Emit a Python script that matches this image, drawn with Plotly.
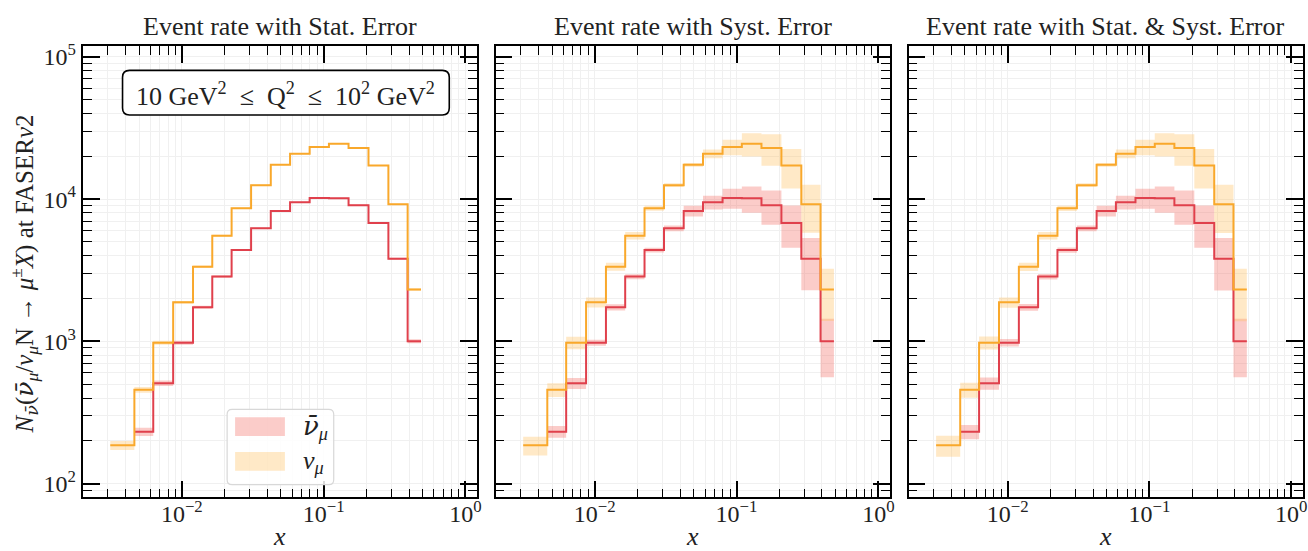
import plotly.graph_objects as go
import math

# ---------------- data ----------------
x_edges = [0.00313, 0.00463, 0.00629, 0.00869, 0.0120, 0.0164, 0.02245, 0.0308,
           0.0424, 0.0580, 0.0797, 0.1090, 0.1499, 0.2072, 0.2862, 0.3912, 0.4860]

nu_mu = [186, 457, 980, 1883, 3355, 5540, 8630, 12550, 17420, 20860, 23230,
         24490, 22860, 17220, 9200, 2317]
nubar_mu = [None, 232, 508, 980, 1738, 2855, 4385, 6240, 8270, 9510, 10190,
            10150, 9060, 6790, 3810, 1002]

nu_stat = [0.073, 0.047, 0.032, 0.023, 0.017, 0.013, 0.011, 0.009, 0.008, 0.007,
           0.0066, 0.0064, 0.0066, 0.0076, 0.0104, 0.021]
nubar_stat = [None, 0.066, 0.044, 0.032, 0.024, 0.019, 0.015, 0.0127, 0.011, 0.0103,
              0.0099, 0.0099, 0.0105, 0.0122, 0.0162, 0.032]
# relative systematic uncertainties
nu_syst = [0.15, 0.11, 0.10, 0.08, 0.065, 0.06, 0.04, 0.03, 0.03, 0.07, 0.125,
           0.185, 0.25, 0.31, 0.37, 0.40]
nubar_syst = [None, 0.095, 0.09, 0.05, 0.05, 0.04, 0.04, 0.045, 0.085, 0.11, 0.16,
              0.21, 0.27, 0.33, 0.40, 0.44]

panel_titles = ["Event rate with Stat. Error", "Event rate with Syst. Error",
                "Event rate with Stat. &amp; Syst. Error"]
x_tickvals = [0.01, 0.1, 1]
x_ticktext = ["10<sup>−2</sup>", "10<sup>−1</sup>", "10<sup>0</sup>"]
y_tickvals = [1e2, 1e3, 1e4, 1e5]
y_ticktext = ["10<sup>2</sup>", "10<sup>3</sup>", "10<sup>4</sup>", "10<sup>5</sup>"]

# ---------------- style ----------------
W, H = 1308, 551
FONT = "Liberation Serif"
NUBAR = "<span style=\"font-family:'DejaVu Serif'\"><i>ν̄</i></span>"
RED_LINE = "#e0404c"
ORA_LINE = "#f9a82b"
RED_BAND = "rgba(243,110,100,0.35)"
ORA_BAND = "rgba(255,188,85,0.33)"
GRID = "#f0f0f0"

px_l = [83, 497.5, 912]
panel_w = 395.5
top_px, bot_px = 41, 497


def fx(p):
    return p / W


def fy(p):
    return 1 - p / H


fig = go.Figure()


def errs(kind, stat, syst):
    out = []
    for s, t in zip(stat, syst):
        if s is None:
            out.append(None)
        elif kind == 0:
            out.append(s)
        elif kind == 1:
            out.append(t)
        else:
            out.append(math.sqrt(s * s + t * t))
    return out


def add_band(k, vals, rel, band_col):
    xa = "x" if k == 0 else f"x{k+1}"
    ya = "y" if k == 0 else f"y{k+1}"
    start = 0
    while vals[start] is None:
        start += 1
    v = vals[start:]
    e = rel[start:]
    xe = x_edges[start:]
    lo = [a * (1 - b) for a, b in zip(v, e)]
    hi = [a * (1 + b) for a, b in zip(v, e)]
    fig.add_trace(go.Scatter(x=xe, y=lo + [lo[-1]], mode="lines", line=dict(width=0, shape="hv"),
                             xaxis=xa, yaxis=ya, showlegend=False, hoverinfo="skip"))
    fig.add_trace(go.Scatter(x=xe, y=hi + [hi[-1]], mode="lines", line=dict(width=0, shape="hv"),
                             fill="tonexty", fillcolor=band_col,
                             xaxis=xa, yaxis=ya, showlegend=False, hoverinfo="skip"))


def add_line(k, vals, line_col):
    xa = "x" if k == 0 else f"x{k+1}"
    ya = "y" if k == 0 else f"y{k+1}"
    start = 0
    while vals[start] is None:
        start += 1
    v = vals[start:]
    fig.add_trace(go.Scatter(x=x_edges[start:], y=v + [v[-1]], mode="lines",
                             line=dict(color=line_col, width=2, shape="hv"),
                             xaxis=xa, yaxis=ya, showlegend=False))


for k in range(3):
    add_band(k, nubar_mu, errs(k, nubar_stat, nubar_syst), RED_BAND)
    add_band(k, nu_mu, errs(k, nu_stat, nu_syst), ORA_BAND)
    add_line(k, nubar_mu, RED_LINE)
    add_line(k, nu_mu, ORA_LINE)

x_minor = [m * 10 ** d for d in (-3, -2, -1) for m in range(2, 10)]
y_minor = [m * 10 ** d for d in (1, 2, 3, 4) for m in range(2, 10)]

axis_common = dict(type="log", showline=True, linecolor="black", linewidth=1.8,
                   mirror="allticks", ticks="inside", ticklen=17, tickwidth=1.6,
                   tickcolor="black", showgrid=True, gridcolor=GRID, gridwidth=1,
                   zeroline=False, tickfont=dict(family=FONT, size=24, color="#222"))

for k in range(3):
    xn = "xaxis" if k == 0 else f"xaxis{k+1}"
    yn = "yaxis" if k == 0 else f"yaxis{k+1}"
    fig.layout[xn] = dict(axis_common,
                          domain=[fx(px_l[k]), fx(px_l[k] + panel_w)],
                          anchor="y" if k == 0 else f"y{k+1}",
                          range=[math.log10(0.002), math.log10(1.2)],
                          tickvals=x_tickvals, ticktext=x_ticktext,
                          ticklabelstandoff=-6,
                          minor=dict(tickvals=x_minor, ticks="inside", ticklen=9, tickwidth=1.2,
                                     tickcolor="black", showgrid=True, gridcolor=GRID, gridwidth=1))
    fig.layout[yn] = dict(axis_common,
                          domain=[fy(bot_px), fy(top_px)],
                          anchor="x" if k == 0 else f"x{k+1}",
                          range=[math.log10(80), math.log10(1.2e5)],
                          tickvals=y_tickvals,
                          ticktext=y_ticktext if k == 0 else ["", "", "", ""],
                          showticklabels=(k == 0),
                          minor=dict(tickvals=y_minor, ticks="inside", ticklen=9, tickwidth=1.2,
                                     tickcolor="black", showgrid=True, gridcolor=GRID, gridwidth=1))

annotations = []
shapes = []
for k in range(3):
    cx = fx(px_l[k] + panel_w / 2)
    annotations.append(dict(text=panel_titles[k], x=cx, y=fy(22), xref="paper", yref="paper",
                            showarrow=False, xanchor="center", yanchor="middle",
                            font=dict(family=FONT, size=26, color="#222")))
    annotations.append(dict(text="<i>x</i>", x=cx, y=fy(536), xref="paper", yref="paper",
                            showarrow=False, xanchor="center", yanchor="middle",
                            font=dict(family=FONT, size=26, color="#222")))

annotations.append(dict(
    text=f"<i>N</i><sub>{NUBAR}</sub>({NUBAR}<sub><i>μ</i></sub>/<i>ν</i><sub><i>μ</i></sub>N → <i>μ</i><sup>±</sup><i>X</i>) at FASER<i>ν</i>2",
    x=fx(24), y=fy(271), xref="paper", yref="paper", textangle=-90, showarrow=False,
    xanchor="center", yanchor="middle", font=dict(family=FONT, size=25, color="#222")))


def rounded_rect(x0, y0, x1, y1, r):
    # pixel coords -> paper path
    def P(x, y):
        return f"{fx(x):.5f},{fy(y):.5f}"
    return (f"M {P(x0 + r, y0)} L {P(x1 - r, y0)} Q {P(x1, y0)} {P(x1, y0 + r)} "
            f"L {P(x1, y1 - r)} Q {P(x1, y1)} {P(x1 - r, y1)} L {P(x0 + r, y1)} "
            f"Q {P(x0, y1)} {P(x0, y1 - r)} L {P(x0, y0 + r)} Q {P(x0, y0)} {P(x0 + r, y0)} Z")


# Q^2 box
shapes.append(dict(type="path", xref="paper", yref="paper",
                   path=rounded_rect(123, 66, 451, 111, 7),
                   line=dict(color="black", width=1.6), fillcolor="white"))
annotations.append(dict(text="10 GeV<sup>2</sup>\u2002≤\u2002Q<sup>2</sup>\u2002≤\u200210<sup>2</sup> GeV<sup>2</sup>",
                        x=fx(287), y=fy(90), xref="paper", yref="paper", showarrow=False,
                        xanchor="center", yanchor="middle",
                        font=dict(family=FONT, size=26, color="#222")))

# legend (drawn manually)
shapes.append(dict(type="path", xref="paper", yref="paper",
                   path=rounded_rect(228, 408, 335, 484, 5),
                   line=dict(color="#d8d8d8", width=1.2), fillcolor="rgba(255,255,255,0.85)"))
shapes.append(dict(type="rect", xref="paper", yref="paper",
                   x0=fx(236), x1=fx(286), y0=fy(435), y1=fy(416),
                   line=dict(width=0), fillcolor=RED_BAND))
shapes.append(dict(type="rect", xref="paper", yref="paper",
                   x0=fx(236), x1=fx(286), y0=fy(470), y1=fy(451),
                   line=dict(width=0), fillcolor=ORA_BAND))
annotations.append(dict(text=f"{NUBAR}<sub><i>μ</i></sub>", x=fx(302), y=fy(426),
                        xref="paper", yref="paper", showarrow=False, xanchor="left",
                        yanchor="middle", font=dict(family=FONT, size=26, color="#222")))
annotations.append(dict(text="<i>ν</i><sub><i>μ</i></sub>", x=fx(302), y=fy(461),
                        xref="paper", yref="paper", showarrow=False, xanchor="left",
                        yanchor="middle", font=dict(family=FONT, size=26, color="#222")))

fig.update_layout(width=W, height=H, margin=dict(l=0, r=0, t=0, b=0),
                  paper_bgcolor="white", plot_bgcolor="white", showlegend=False,
                  annotations=annotations, shapes=shapes,
                  font=dict(family=FONT, color="#222"))

fig.write_html("out.html")
